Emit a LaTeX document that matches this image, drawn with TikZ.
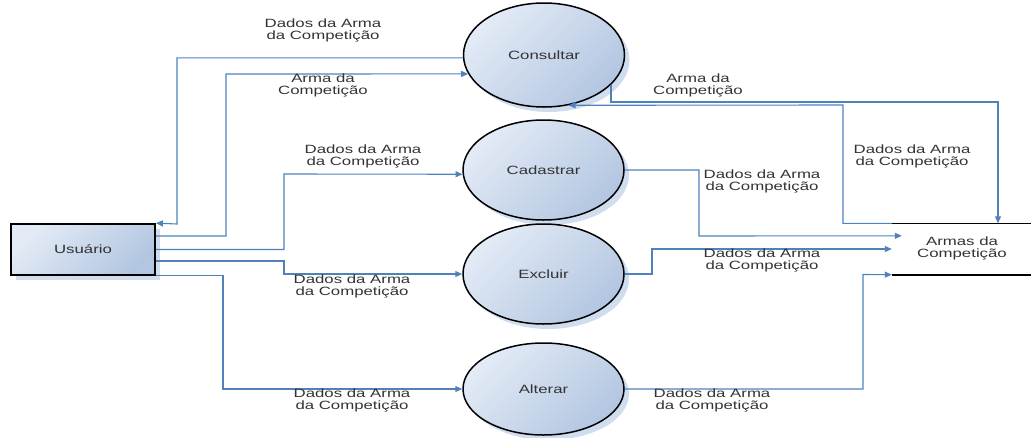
\documentclass[tikz,border=0pt]{standalone}
\usepackage{fontspec}
\setmainfont{Liberation Sans}
\usepackage{graphicx}
\usetikzlibrary{arrows.meta,shapes.geometric,shadows,calc}

\definecolor{flowblue}{HTML}{4F81BD}
\definecolor{fillhi}{HTML}{E3EBF6}
\definecolor{filllo}{HTML}{B3C6E1}
\definecolor{shadowblue}{HTML}{D0DDEE}
\definecolor{inkgray}{HTML}{333333}

% text is set slightly wide
\newcommand\widetext[1]{\scalebox{1.4}[1]{#1}}
\newcommand\twolines[2]{\widetext{\begin{tabular}{@{}c@{}}#1\\#2\end{tabular}}}

\begin{document}
\begin{tikzpicture}[x=1pt,y=-1pt,
  every node/.style={font=\fontsize{12}{12.3}\selectfont, text=inkgray},
  softfill/.style={top color=fillhi, bottom color=filllo, shading angle=45,
    drop shadow={shadow xshift=5pt, shadow yshift=-5pt, fill=shadowblue, opacity=1}},
  proc/.style={ellipse, draw=black, line width=1.5pt, inner sep=0pt,
    minimum width=161pt, softfill},
  entity/.style={rectangle, draw=black, line width=1.8pt, inner sep=0pt,
    minimum width=144pt, minimum height=51pt, softfill},
  flow/.style={draw=flowblue, line width=1.1pt, line join=miter,
    -{Triangle[length=7pt,width=6pt]}},
  lbl/.style={inner sep=0pt}
]
\useasboundingbox (0,0) rectangle (1031,437);

% external entity and processes
\node[entity] (user) at (83,249.5) {\widetext{Usuário}};
\node[proc, minimum height=104pt] (cons) at (544,55)  {\widetext{Consultar}};
\node[proc, minimum height=100pt] (cad)  at (543.5,170) {\widetext{Cadastrar}};
\node[proc, minimum height=100pt] (exc)  at (543.5,274) {\widetext{Excluir}};
\node[proc, minimum height=92pt]  (alt)  at (543.5,389) {\widetext{Alterar}};

% data store
\node[inner sep=0pt, minimum width=140pt, minimum height=51pt] (store) at (962,249)
  {\twolines{Armas da}{Competição}};
\draw[line width=1.6pt] (store.north west) -- (store.north east);
\draw[line width=1.6pt] (store.south west) -- (store.south east);

% flows between the user and the processes
\draw[flow] (cons.182) -| (177,224) -- (user.north east);
\draw[flow] (user.east |- 0,236) -| (226,74) -- (cons.194);
\draw[flow] (user.east) -| (284,174) -- (cad.183);
\draw[flow] (user.east |- 0,261) -| (284,274) -- (exc.west);
\draw[flow] (user.south east) -| (223,389) -- (alt.west);

% flows between the processes and the data store
\draw[flow] (cons.-24) |- (998,102) -- (store.north -| 998,0);
\draw[flow] (store.north west) -| (843,105) -- (cons.-64);
\draw[flow] (cad.east) -| (699,236) -- ($(store.north west)+(10,12.5)$);
\draw[flow] (exc.east) -| (652,249) -- (store.west);
\draw[flow] (alt.east) -| (863,274.5) -- (store.south west);

% flow labels
\node[lbl] (l1)  at (323,31)  {\twolines{Dados da Arma}{da Competição}};
\node[lbl] (l2)  at (323,86)  {\twolines{Arma da}{Competição}};
\node[lbl] (l3)  at (363,157) {\twolines{Dados da Arma}{da Competição}};
\node[lbl] (l4)  at (352,287) {\twolines{Dados da Arma}{da Competição}};
\node[lbl] (l5)  at (352,401) {\twolines{Dados da Arma}{da Competição}};
\node[lbl] (l6)  at (698,86)  {\twolines{Arma da}{Competição}};
\node[lbl] (l7)  at (912,157) {\twolines{Dados da Arma}{da Competição}};
\node[lbl] (l8)  at (762,182) {\twolines{Dados da Arma}{da Competição}};
\node[lbl] (l9)  at (762,261) {\twolines{Dados da Arma}{da Competição}};
\node[lbl] (l10) at (712,401) {\twolines{Dados da Arma}{da Competição}};
\end{tikzpicture}
\end{document}
